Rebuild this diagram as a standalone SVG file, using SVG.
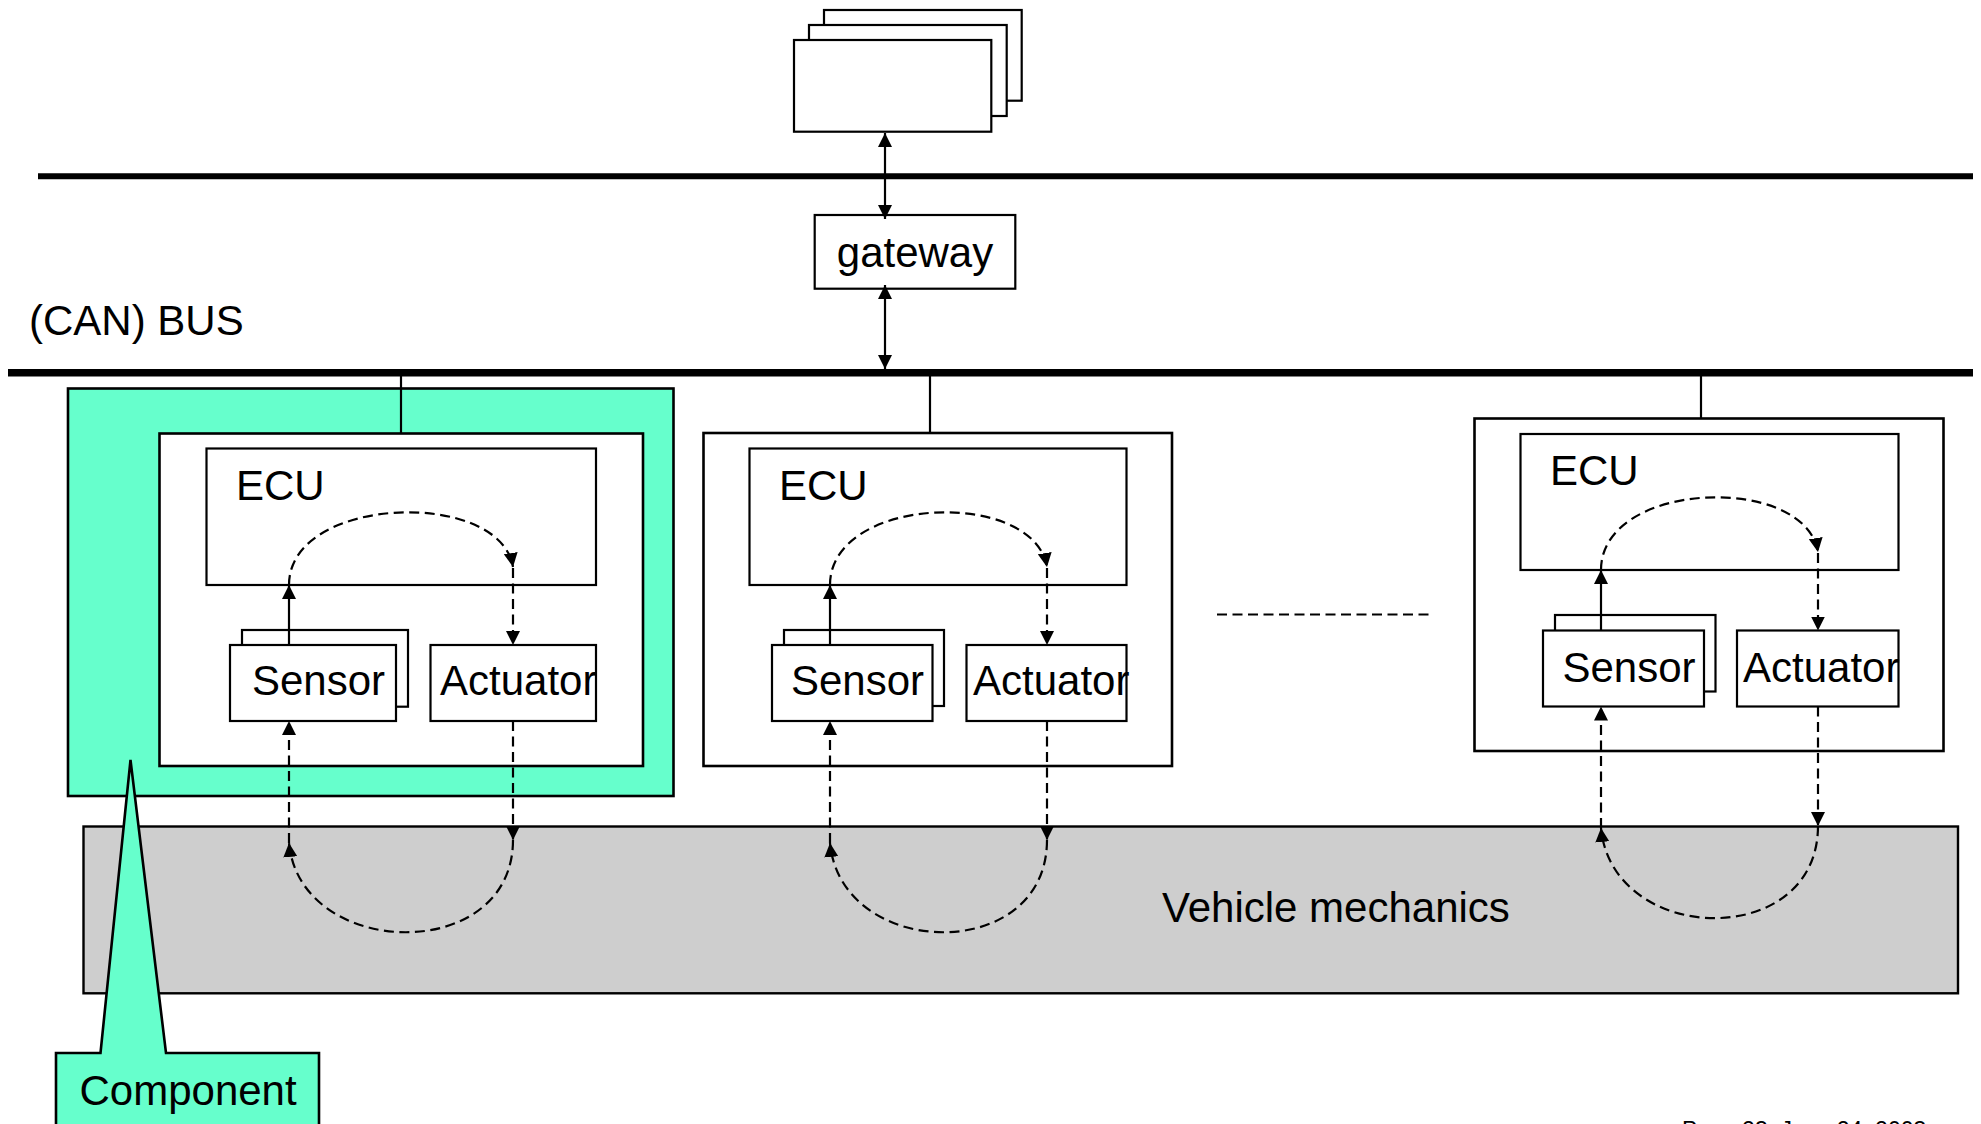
<svg xmlns="http://www.w3.org/2000/svg" width="1981" height="1124" viewBox="0 0 1981 1124">
  <style>
    .box{fill:#fff;stroke:#000;stroke-width:2.2}
    .outer{fill:#fff;stroke:#000;stroke-width:2.6}
    .comp{fill:#66ffcc;stroke:#000;stroke-width:2.6}
    .mech{fill:#cecece;stroke:#000;stroke-width:2.4}
    .lbl{font-family:"Liberation Sans",Arial,sans-serif;font-size:42px;fill:#000}
    .foot{font-family:"Liberation Sans",Arial,sans-serif;font-size:23px;fill:#000}
    .bus{stroke:#000;fill:none}
    .solid{fill:none;stroke:#000;stroke-width:2.2}
    .flow{fill:none;stroke:#000;stroke-width:2.2;stroke-dasharray:10 5.5}
  </style>
  <defs>
    <marker id="ah" viewBox="0 0 14 14" refX="14" refY="7" markerWidth="14" markerHeight="14" markerUnits="userSpaceOnUse" orient="auto-start-reverse">
      <path d="M0,0 L14,7 L0,14 Z" fill="#000"/>
    </marker>
  </defs>
  <rect width="1981" height="1124" fill="#fff"/>

  <!-- bus lines -->
  <g id="buses">
    <line class="bus" x1="38" y1="176.3" x2="1973" y2="176.3" stroke-width="6"/>
    <line class="bus" x1="8" y1="372.8" x2="1973" y2="372.8" stroke-width="7.5"/>
    <text class="lbl" x="29" y="335">(CAN) BUS</text>
  </g>

  <!-- other networks behind the gateway -->
  <g id="networks">
    <rect class="box" x="824" y="10" width="197.7" height="90.7"/>
    <rect class="box" x="809" y="25" width="197.7" height="91"/>
    <rect class="box" x="794" y="40" width="197.3" height="91.7"/>
  </g>

  <g id="gateway">
    <rect class="box" x="814.7" y="215" width="200.6" height="73.7"/>
    <text class="lbl" x="915" y="266.5" text-anchor="middle">gateway</text>
  </g>

  <!-- component 1 (highlighted) -->
  <g id="component-1">
    <rect class="comp" x="68" y="388.5" width="605.5" height="407.5"/>
    <rect class="outer" x="159.5" y="433.5" width="483.5" height="332.5"/>
    <g id="ecu-1">
      <rect class="box" x="206.5" y="448.5" width="389.5" height="136.5"/>
      <text class="lbl" x="236" y="500">ECU</text>
    </g>
    <g id="sensor-1">
      <rect class="box" x="242" y="630" width="166" height="76.7"/>
      <rect class="box" x="230" y="645" width="166" height="76"/>
      <text class="lbl" x="252" y="695">Sensor</text>
    </g>
    <g id="actuator-1">
      <rect class="box" x="430.5" y="645" width="165.5" height="76"/>
      <text class="lbl" x="440" y="695">Actuator</text>
    </g>
  </g>

  <!-- component 2 -->
  <g id="component-2">
    <rect class="outer" x="703.5" y="433" width="468.5" height="333"/>
    <g id="ecu-2">
      <rect class="box" x="749.5" y="448.5" width="377" height="136.5"/>
      <text class="lbl" x="779" y="500">ECU</text>
    </g>
    <g id="sensor-2">
      <rect class="box" x="784" y="630" width="160" height="76"/>
      <rect class="box" x="772" y="645" width="160.5" height="76"/>
      <text class="lbl" x="791" y="695">Sensor</text>
    </g>
    <g id="actuator-2">
      <rect class="box" x="966.5" y="645" width="160" height="76"/>
      <text class="lbl" x="973" y="695">Actuator</text>
    </g>
  </g>

  <!-- component n -->
  <g id="component-n">
    <rect class="outer" x="1474.5" y="418.5" width="469" height="332.5"/>
    <g id="ecu-n">
      <rect class="box" x="1520.5" y="434" width="378" height="136"/>
      <text class="lbl" x="1550" y="485">ECU</text>
    </g>
    <g id="sensor-n">
      <rect class="box" x="1555" y="615" width="160.5" height="76.5"/>
      <rect class="box" x="1543" y="630.5" width="161" height="76"/>
      <text class="lbl" x="1562.5" y="681.5">Sensor</text>
    </g>
    <g id="actuator-n">
      <rect class="box" x="1737" y="630.5" width="161.5" height="76"/>
      <text class="lbl" x="1743" y="681.5">Actuator</text>
    </g>
  </g>

  <g id="vehicle-mechanics">
    <rect class="mech" x="83.5" y="826.5" width="1874.5" height="166.8"/>
    <text class="lbl" x="1162" y="921.5">Vehicle mechanics</text>
  </g>

  <!-- connectors -->
  <g id="connectors">
    <!-- gateway links -->
    <line class="solid" x1="885" y1="133" x2="885" y2="219" marker-start="url(#ah)" marker-end="url(#ah)"/>
    <line class="solid" x1="885" y1="285" x2="885" y2="369" marker-start="url(#ah)" marker-end="url(#ah)"/>
    <!-- bus taps -->
    <line class="solid" x1="401" y1="376" x2="401" y2="433.5"/>
    <line class="solid" x1="930" y1="376" x2="930" y2="433"/>
    <line class="solid" x1="1701" y1="376" x2="1701" y2="418.5"/>
    <!-- dotted etc. between components -->
    <line class="flow" x1="1217" y1="614.5" x2="1431" y2="614.5" stroke-dasharray="9.5 5.8"/>

    <!-- control loop, component 1 -->
    <line class="solid" x1="289" y1="645" x2="289" y2="585" marker-end="url(#ah)"/>
    <path class="flow" d="M289,585 C289,495 500,488 513,567" marker-end="url(#ah)"/>
    <line class="flow" x1="513" y1="568" x2="513" y2="645" marker-end="url(#ah)"/>
    <line class="flow" x1="513" y1="721" x2="513" y2="840" marker-end="url(#ah)"/>
    <path class="flow" d="M513,840 C513,965 300,960 289,843" marker-end="url(#ah)"/>
    <line class="flow" x1="289" y1="843" x2="289" y2="721" marker-end="url(#ah)"/>

    <!-- control loop, component 2 -->
    <line class="solid" x1="830" y1="645" x2="830" y2="585" marker-end="url(#ah)"/>
    <path class="flow" d="M830,585 C830,495 1034,488 1047,567" marker-end="url(#ah)"/>
    <line class="flow" x1="1047" y1="568" x2="1047" y2="645" marker-end="url(#ah)"/>
    <line class="flow" x1="1047" y1="721" x2="1047" y2="840" marker-end="url(#ah)"/>
    <path class="flow" d="M1047,840 C1047,965 841,960 830,843" marker-end="url(#ah)"/>
    <line class="flow" x1="830" y1="843" x2="830" y2="721" marker-end="url(#ah)"/>

    <!-- control loop, component n -->
    <line class="solid" x1="1601" y1="630.5" x2="1601" y2="570" marker-end="url(#ah)"/>
    <path class="flow" d="M1601,570 C1601,480 1805,473 1818,552" marker-end="url(#ah)"/>
    <line class="flow" x1="1818" y1="553" x2="1818" y2="630.5" marker-end="url(#ah)"/>
    <line class="flow" x1="1818" y1="706.5" x2="1818" y2="826" marker-end="url(#ah)"/>
    <path class="flow" d="M1818,826 C1818,951 1612,946 1601,828" marker-end="url(#ah)"/>
    <line class="flow" x1="1601" y1="828" x2="1601" y2="706.5" marker-end="url(#ah)"/>
  </g>

  <!-- callout naming the highlighted component -->
  <g id="component-callout">
    <path class="comp" d="M56,1053 L100.5,1053 L130.5,760 L166,1053 L319,1053 L319,1135 L56,1135 Z"/>
    <text class="lbl" x="79.5" y="1105">Component</text>
  </g>

  <text class="foot" x="1682" y="1138">Page 23, June 24, 2003</text>
</svg>
